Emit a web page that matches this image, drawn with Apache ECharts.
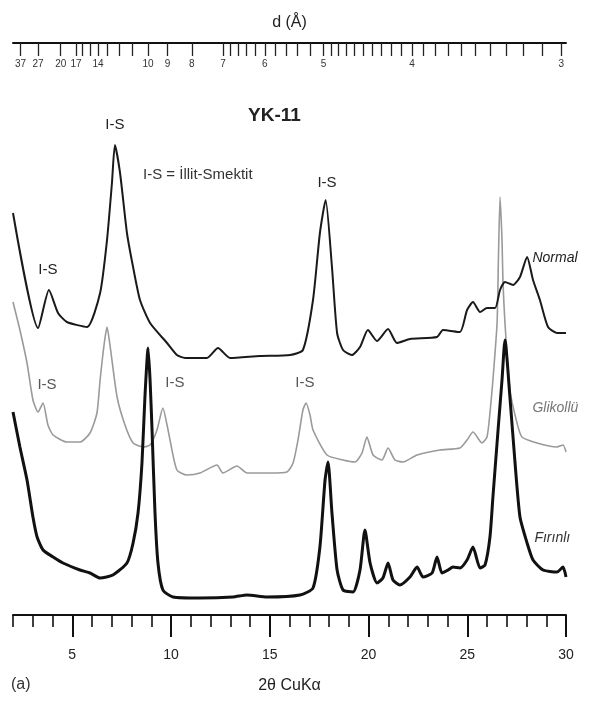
<!DOCTYPE html>
<html><head><meta charset="utf-8">
<script src="https://cdn.jsdelivr.net/npm/echarts@6/dist/echarts.min.js"></script>
<style>html,body{margin:0;padding:0;background:#fff}#c{width:598px;height:702px}</style>
</head><body><div id="c"></div>
<script>
// 2θ (CuKα) positions and offset intensities for each trace
const normalX = [2.00,3.27,3.82,4.28,4.73,5.75,6.41,6.76,7.01,7.16,7.42,7.77,8.08,8.43,8.94,9.80,10.30,10.71,11.82,12.38,12.99,14.51,16.03,16.68,17.19,17.54,17.83,18.15,18.41,18.71,19.16,19.57,19.97,20.43,20.99,21.44,22.10,23.47,23.77,24.63,24.99,25.29,25.65,26.00,26.41,26.66,26.91,27.32,27.67,28.03,28.33,28.68,29.09,29.54,30.00];
const normalY = [402,287,325,302,293,288,322,375,432,470,442,382,348,315,292,272,260,257,257,267,257,259,260,265,315,382,415,348,282,265,260,268,285,274,286,272,276,278,285,283,305,313,303,307,307,325,333,330,338,358,335,315,288,282,282];

const glikolX = [2.00,2.35,2.71,3.01,3.27,3.52,3.77,4.03,4.73,5.39,5.90,6.25,6.41,6.61,6.76,6.91,7.27,7.67,8.08,8.58,8.94,9.29,9.59,9.80,9.95,10.30,10.81,11.47,12.33,12.63,13.34,13.85,15.01,15.87,16.18,16.43,16.68,16.84,17.04,17.19,17.90,18.71,19.32,19.67,19.92,20.23,20.68,20.99,21.34,21.75,22.46,23.62,24.63,24.99,25.29,25.75,26.00,26.15,26.30,26.51,26.58,26.66,26.76,26.81,26.91,27.16,27.52,27.77,28.53,29.54,29.85,30.00];
const glikolY = [313,285,252,215,203,212,190,180,173,173,182,202,235,270,288,270,218,190,172,168,170,185,207,190,175,145,140,142,150,142,149,142,142,143,152,175,205,212,200,185,160,155,153,162,178,160,155,167,155,153,160,165,167,175,183,172,178,202,235,292,358,418,375,332,292,225,192,178,172,168,170,163];

const firinX = [2.00,2.35,2.71,3.01,3.22,3.52,4.03,4.53,5.39,5.90,6.41,7.06,7.77,8.08,8.33,8.53,8.68,8.84,8.94,9.04,9.19,9.34,9.59,10.10,11.47,13.14,13.85,14.86,16.53,17.19,17.54,17.80,17.95,18.15,18.41,18.71,19.22,19.57,19.82,20.08,20.43,20.73,20.99,21.24,21.59,22.10,22.46,22.76,23.22,23.47,23.72,24.03,24.28,24.63,24.99,25.29,25.65,25.90,26.15,26.30,26.56,26.76,26.91,27.16,27.42,27.67,28.03,28.33,28.84,29.54,29.85,30.00];
const firinY = [203,168,135,98,78,65,58,52,45,42,37,40,52,72,102,152,218,267,235,185,102,52,25,18,17,18,20,18,20,27,68,135,153,102,45,25,23,45,85,52,32,37,52,35,30,38,48,38,42,58,42,45,48,47,55,68,47,50,78,118,185,235,275,218,152,98,72,55,45,43,48,38];

// top axis (d spacing, Å)
const dTicks = [37,27,20,17,16,15,14,13,12,11,10,9,8,7,6.8,6.6,6.4,6.2,6,5.8,5.6,5.4,5.2,5,4.9,4.8,4.7,4.6,4.5,4.4,4.3,4.2,4.1,4,3.9,3.8,3.7,3.6,3.5,3.4,3.3,3.2,3.1,3];
const dLabels = [37,27,20,17,14,10,9,8,7,6,5,4,3];
const bottomMajor = [5,10,15,20,25,30];

// peak annotations [2θ, intensity, text]
const peakNotes = [[3.77,345,'I-S'],[7.16,490,'I-S'],[17.9,432,'I-S'],[3.72,230,'I-S'],[10.2,232,'I-S'],[16.78,232,'I-S']];
const traceNames = ['Normal','Glikollü','Fırınlı'];
const traceNamePos = [[28.3,357],[28.3,207],[28.4,77]];

const LAMBDA = 1.5406;
const toTwoTheta = d => 2*Math.asin(LAMBDA/(2*d))*180/Math.PI;
const toD = tt => LAMBDA/(2*Math.sin(tt/2*Math.PI/180));

const pairs = (xs, ys) => xs.map((x,i)=>[x, ys[i]]);
const font = 'Liberation Sans, Arial, sans-serif';

const chart = echarts.init(document.getElementById('c'));
const noteMP = (notes, color) => ({
  symbol:'circle', symbolSize:1, itemStyle:{color:'rgba(0,0,0,0)'}, silent:true,
  label:{show:true, position:'inside', color, fontFamily:font, fontSize:15, formatter:p=>p.name},
  data: notes.map(n=>({name:n[2], coord:[n[0],n[1]]}))
});
const nameMP = (i, color) => ({
  symbol:'circle', symbolSize:1, itemStyle:{color:'rgba(0,0,0,0)'}, silent:true,
  label:{show:true, position:'inside', align:'left', color, fontFamily:font, fontSize:14, fontStyle:'italic', formatter:p=>p.name},
  data:[{name:traceNames[i], coord:traceNamePos[i]}]
});

chart.setOption({
  animation:false,
  backgroundColor:'#fff',
  grid:{left:13, right:32, top:43, bottom:87},
  xAxis:[
    {type:'value', position:'bottom', min:2, max:30, interval:1,
     axisLine:{lineStyle:{color:'#111', width:2}},
     axisTick:{length:12, lineStyle:{color:'#111', width:1.6}},
     axisLabel:{fontFamily:font, fontSize:14, color:'#222', margin:33,
       formatter:v=> (v%5===0 ? String(v) : '')},
     splitLine:{show:false},
     name:'2θ CuKα', nameLocation:'middle', nameGap:63,
     nameTextStyle:{fontFamily:font, fontSize:16, color:'#222'}},
    {type:'value', position:'top', min:2, max:30,
     axisLine:{lineStyle:{color:'#111', width:2}},
     axisTick:{inside:true, length:13, customValues:dTicks.map(toTwoTheta), lineStyle:{color:'#222', width:1.3}},
     axisLabel:{inside:true, margin:16, fontFamily:font, fontSize:10, color:'#333',
       customValues:dLabels.map(toTwoTheta),
       formatter:v=>{const d=toD(v); let best=dLabels[0]; dLabels.forEach(l=>{if(Math.abs(l-d)<Math.abs(best-d)) best=l;}); return String(best);}},
     splitLine:{show:false},
     name:'d (Å)', nameLocation:'middle', nameGap:12,
     nameTextStyle:{fontFamily:font, fontSize:16, color:'#222'}},
    {type:'value', position:'bottom', min:2, max:30,
     axisLine:{show:false},
     axisTick:{length:22, customValues:bottomMajor, lineStyle:{color:'#111', width:2}},
     axisLabel:{show:false}, splitLine:{show:false}}
  ],
  yAxis:{type:'value', min:0, max:572, show:false},
  series:[
    {name:'Glikollü', type:'line', xAxisIndex:0, data:pairs(glikolX, glikolY), showSymbol:false, smooth:0.2,
     lineStyle:{color:'#9a9a9a', width:1.6}, z:2,
     markPoint: Object.assign(noteMP(peakNotes.slice(3), '#555'), {})},
    {name:'Normal', type:'line', xAxisIndex:0, data:pairs(normalX, normalY), showSymbol:false, smooth:0.2,
     lineStyle:{color:'#1a1a1a', width:2}, z:3,
     markPoint: noteMP(peakNotes.slice(0,3), '#222')},
    {name:'Fırınlı', type:'line', xAxisIndex:0, data:pairs(firinX, firinY), showSymbol:false, smooth:0.2,
     lineStyle:{color:'#111', width:3}, z:4,
     markPoint: nameMP(2, '#333')},
    {name:'labels', type:'line', xAxisIndex:0, data:[], showSymbol:false,
     markPoint:{symbol:'circle', symbolSize:1, itemStyle:{color:'rgba(0,0,0,0)'}, silent:true,
       label:{show:true, position:'inside', align:'left', fontFamily:font, fontSize:14, fontStyle:'italic', formatter:p=>p.name, color:'#222'},
       data:[{name:traceNames[0], coord:traceNamePos[0]},
             {name:traceNames[1], coord:traceNamePos[1], label:{color:'#777'}}]}}
  ],
  graphic:[
    {type:'text', left:248, top:106, style:{text:'YK-11', fontFamily:font, fontSize:19, fontWeight:'bold', fill:'#222'}},
    {type:'text', left:143, top:167, style:{text:'I-S = İllit-Smektit', fontFamily:font, fontSize:15, fill:'#333'}},
    {type:'text', left:11, top:677, style:{text:'(a)', fontFamily:font, fontSize:16, fill:'#333'}}
  ]
});
</script>
</body></html>
